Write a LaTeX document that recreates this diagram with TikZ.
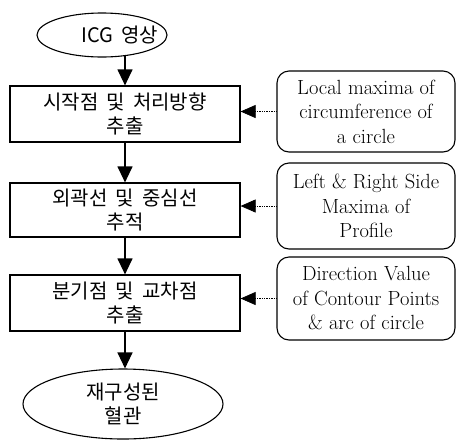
\documentclass[tikz,border=0pt]{standalone}
\usepackage{fontspec}
\newfontfamily\krfont[WordSpace=1.8]{Noto Sans CJK KR}
\usetikzlibrary{shapes.geometric,arrows.meta}

\tikzset{
	kr/.style={font=\krfont\fontsize{20}{24}\selectfont},
	stepbox/.style={kr, draw, line width=1.2pt, minimum width=230pt, inner sep=0pt, align=center},
	term/.style={kr, draw, ellipse, line width=1.1pt, inner sep=0pt, align=center},
	note/.style={draw, rounded corners=12pt, line width=1.1pt, minimum width=178pt, inner sep=1pt, align=center, font=\fontsize{20.5}{24.5}\selectfont},
	flow/.style={-{Triangle[length=16pt,width=15pt]}, line width=1.2pt},
	feed/.style={-{Triangle[length=15pt,width=13pt]}, densely dotted, line width=0.7pt}
}

\begin{document}
\begin{tikzpicture}[x=1pt,y=-1pt]
		\useasboundingbox (0,0) rectangle (457,440);
		\node[term, minimum width=130pt, minimum height=44pt] (start) at (102,35) {};
		\node[kr] (starttext) at (120,35) {ICG 영상};
		\node[stepbox, minimum height=56pt] (extract) at (125,114) {시작점 및 처리방향\\추출};
		\node[stepbox, minimum height=54pt] (trace) at (125,210) {외곽선 및 중심선\\추적};
		\node[stepbox, minimum height=56pt] (cross) at (125,303) {분기점 및 교차점\\추출};
		\node[term, minimum width=200pt, minimum height=70pt] (vessel) at (123,404) {재구성된\\혈관};
		%
		\node[note, minimum height=81pt] (maxima) at (366,111.5) {Local maxima of\\circumference of\\a circle};
		\node[note, minimum height=86pt] (profile) at (366,206) {Left \& Right Side\\Maxima of\\Profile};
		\node[note, minimum height=83pt] (contour) at (366,298.5) {Direction Value\\of Contour Points\\\& arc of circle};
		%
		\draw[flow, shorten <=-2pt] (start.south -| extract.north) -- (extract.north);
		\draw[flow] (extract) -- (trace);
		\draw[flow] (trace) -- (cross);
		\draw[flow] (cross.south) -- (cross.south |- vessel.north);
		\draw[feed] (maxima.west) -- (maxima.west -| extract.east);
		\draw[feed] (profile.west) -- (profile.west -| trace.east);
		\draw[feed] (contour.west) -- (contour.west -| cross.east);
	\end{tikzpicture}
\end{document}
